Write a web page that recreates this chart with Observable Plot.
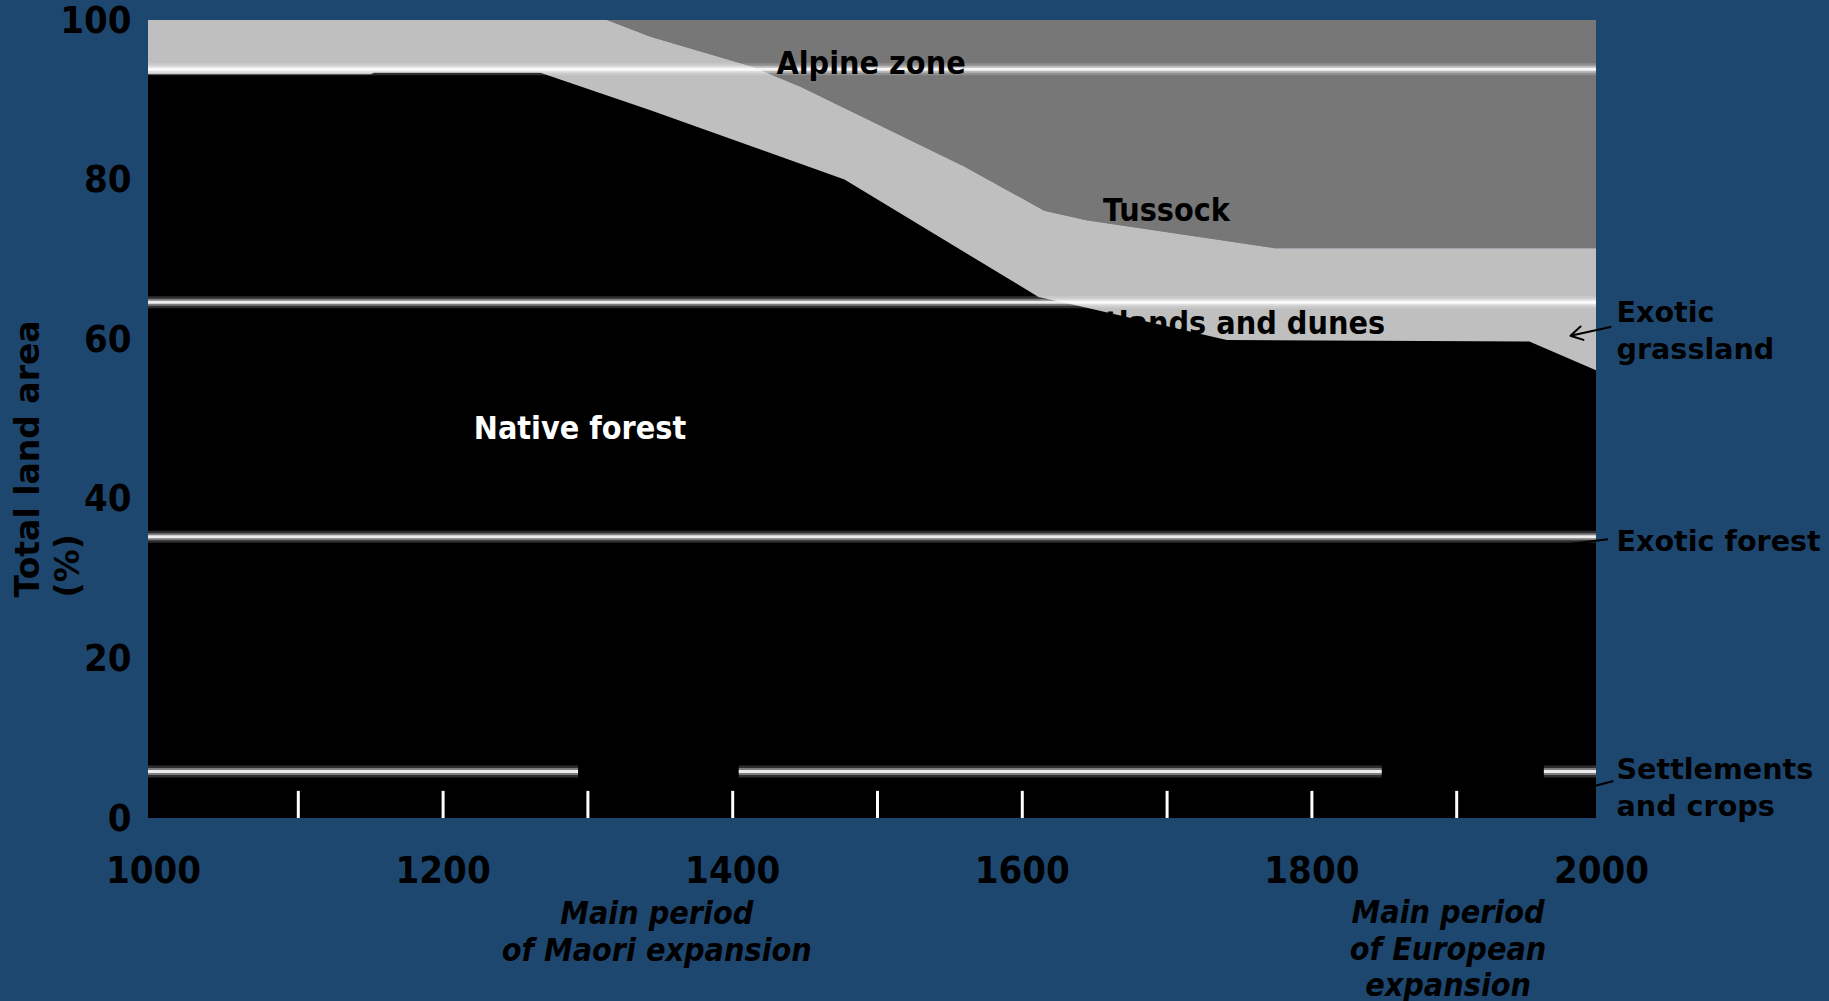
<!DOCTYPE html>
<html><head><meta charset="utf-8">
<script src="https://cdn.jsdelivr.net/npm/d3@7"></script>
<script src="https://cdn.jsdelivr.net/npm/@observablehq/plot@0.6"></script>
<style>
html,body{margin:0;padding:0;background:#1e4770;overflow:hidden;}
</style></head><body><div id="chart"></div>
<script>
// Top boundary of native forest (% of total land area)
const forestYears = [1000, 1154, 1156, 1271, 1347, 1481, 1615, 1640, 1745, 1954, 2000];
const forestTop   = [93.2, 93.2, 93.4, 93.4, 88.7, 80.0, 65.3, 64.3, 59.9, 59.7, 56.1];
// Boundary between tussock/grassland band and alpine zone
const alpineYears = [1000, 1317, 1347, 1418, 1451, 1564, 1619, 1648, 1778, 2000];
const alpineBound = [100, 100, 97.9, 94.1, 91.6, 81.6, 76.1, 74.9, 71.4, 71.4];
// Horizontal band lines
const bandLevels = [93.9, 64.7, 35.3];
const settleLevel = 5.9;
const settleStart = [1000, 1408, 1964];
const settleEnd   = [1297, 1852, 2000];
// Century marks
const centuryMarks = [1100, 1200, 1300, 1400, 1500, 1600, 1700, 1800, 1900];
const xTicks = [1000, 1200, 1400, 1600, 1800, 2000];
const yTicks = [0, 20, 40, 60, 80, 100];
// Labels
const zoneLabels = ["Alpine zone", "Tussock"];
const zoneX = [1499, 1703];
const zoneY = [94.6, 76.2];
const forestLabel = {t: "Native forest", x: 1298, y: 48.9};
const wetLabel = {t: "Wetlands and dunes", x: 1854, y: 62.0};
const sideLabels = ["Exotic\ngrassland", "Exotic forest", "Settlements\nand crops"];
const sideY = [61.4, 35.0, 4.1];
const periodLabels = ["Main period\nof Maori expansion", "Main period\nof European\nexpansion"];
const periodX = [1351, 1897.5];
const periodY = [-14.1, -16.2];

const forest = forestYears.map((x, i) => ({x, v: forestTop[i]}));
const alpine = alpineYears.map((x, i) => ({x, v: alpineBound[i]}));
const settle = settleStart.map((s, i) => ({s, e: settleEnd[i]}));
const zones = zoneLabels.map((t, i) => ({t, x: zoneX[i], y: zoneY[i]}));
const sides = sideLabels.map((t, i) => ({t, y: sideY[i]}));
const periods = periodLabels.map((t, i) => ({t, x: periodX[i], y: periodY[i]}));

const COND = "'DejaVu Sans Condensed', 'DejaVu Sans', sans-serif";
const WIDE = "'DejaVu Sans', Verdana, sans-serif";

function tube(levelsData, opts) {
  return [
    Plot.ruleY(levelsData, {...opts, stroke: "white", strokeOpacity: 0.18, strokeWidth: 12}),
    Plot.ruleY(levelsData, {...opts, stroke: "white", strokeOpacity: 0.38, strokeWidth: 7}),
    Plot.ruleY(levelsData, {...opts, stroke: "white", strokeOpacity: 0.85, strokeWidth: 3})
  ];
}

const chart = Plot.plot({
  width: 1829, height: 1001,
  marginLeft: 148, marginRight: 233, marginTop: 20, marginBottom: 183,
  x: {domain: [1000, 2000], label: null},
  y: {domain: [0, 100], label: null},
  style: {background: "#1e4770", color: "black", fontFamily: COND, overflow: "visible"},
  marks: [
    Plot.areaY(alpine, {x: "x", y1: "v", y2: 100, fill: "#777777"}),
    Plot.areaY(alpine, {x: "x", y1: 0, y2: "v", fill: "#bfbfbf"}),
    Plot.areaY(forest, {x: "x", y1: 0, y2: "v", fill: "black"}),
    ...tube(bandLevels, {y: d => d}),
    ...tube(settle, {y: () => settleLevel, x1: "s", x2: "e"}),
    Plot.ruleX(centuryMarks, {x: d => d, y1: 0, y2: 3.4, stroke: "white", strokeWidth: 3, dx: 5}),
    Plot.text(zones, {x: "x", y: "y", text: "t", fontFamily: COND, fontWeight: "bold", fontSize: 32,
      fill: "black", textAnchor: "middle"}),
    Plot.text([forestLabel], {x: "x", y: "y", text: "t", fontFamily: COND, fontWeight: "bold", fontSize: 32,
      fill: "white", textAnchor: "middle"}),
    Plot.text([wetLabel], {x: "x", y: "y", text: "t", fontFamily: COND, fontWeight: "bold", fontSize: 32,
      fill: "black", textAnchor: "end"}),
    Plot.text(sides, {x: 2000, y: "y", text: "t", dx: 20, textAnchor: "start", lineAnchor: "middle",
      fontFamily: WIDE, fontWeight: "bold", fontSize: 28.6, lineHeight: 1.28, fill: "black"}),
    Plot.arrow([{x1: 2009.7, y1: 61.6, x2: 1982, y2: 60.5}], {x1: "x1", y1: "y1", x2: "x2", y2: "y2",
      stroke: "black", strokeWidth: 2, headLength: 12, bend: 0}),
    Plot.link([{x1: 2007.9, y1: 35.0, x2: 1981.4, y2: 34.4}, {x1: 2011.7, y1: 4.7, x2: 1999.3, y2: 4.1}],
      {x1: "x1", y1: "y1", x2: "x2", y2: "y2", stroke: "black", strokeWidth: 2}),
    Plot.text(periods, {x: "x", y: "y", text: "t", fontFamily: COND, fontWeight: "bold", fontStyle: "italic",
      fontSize: 32, lineHeight: 1.15, fill: "black", lineAnchor: "middle"}),
    Plot.text(["Total land area\n(%)"], {x: 929.2, y: 27.7, text: d => d, rotate: -90, textAnchor: "start",
      lineAnchor: "middle", fontFamily: WIDE, fontWeight: "bold", fontSize: 33, lineHeight: 1.23, fill: "black"}),
    Plot.axisX({ticks: xTicks, tickSize: 0, tickPadding: 38, dx: 5, fontSize: 38, fontWeight: "bold",
      fill: "black", tickFormat: d => String(d), label: null}),
    Plot.axisY({ticks: yTicks, tickSize: 0, tickPadding: 17, fontSize: 38, fontWeight: "bold",
      fill: "black", label: null})
  ]
});
document.getElementById("chart").appendChild(chart);
</script></body></html>
